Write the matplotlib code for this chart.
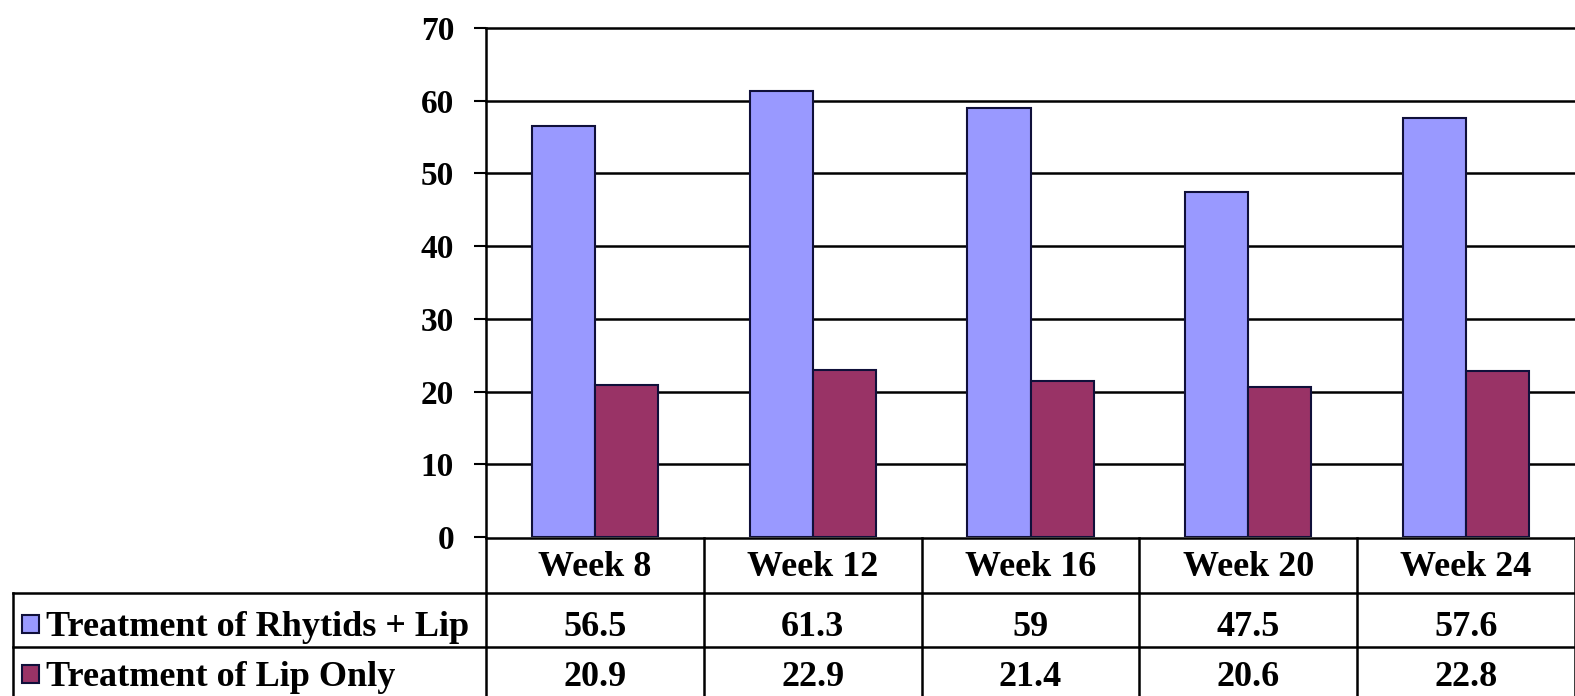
import matplotlib
matplotlib.use('Agg')
import matplotlib.pyplot as plt
from matplotlib.patches import Rectangle
from matplotlib.lines import Line2D

''' chart data '''
weeks = ['Week 8', 'Week 12', 'Week 16', 'Week 20', 'Week 24']
rhytids_lip = [56.5, 61.3, 59, 47.5, 57.6]
lip_only = [20.9, 22.9, 21.4, 20.6, 22.8]
series_names = ['Treatment of Rhytids + Lip', 'Treatment of Lip Only']
yticks = [0, 10, 20, 30, 40, 50, 60, 70]

blue = '#9999FF'
maroon = '#993366'
edge = '#10103a'

plt.rcParams['font.family'] = ['Liberation Serif', 'DejaVu Serif']
plt.rcParams['font.weight'] = 'bold'

W, H = 1575, 696
fig = plt.figure(figsize=(W / 100, H / 100), dpi=100)

''' main bar axes (pixel layout) '''
left_px, right_px, top_px, bottom_px = 486, 1575, 28, 537
ax = fig.add_axes([left_px / W, (H - bottom_px) / H,
                   (right_px - left_px) / W, (bottom_px - top_px) / H])

x = list(range(len(weeks)))
bw = 0.29
ax.bar([i - bw / 2 for i in x], rhytids_lip, width=bw, color=blue,
       edgecolor=edge, linewidth=1.5, zorder=3)
ax.bar([i + bw / 2 for i in x], lip_only, width=bw, color=maroon,
       edgecolor=edge, linewidth=1.5, zorder=3)

ax.set_xlim(-0.5, len(weeks) - 0.5)
ax.set_ylim(0, 70)
ax.set_yticks(yticks)
ax.set_yticklabels([str(t) for t in yticks], fontsize=24, fontweight='bold')
ax.set_xticks([])
for t in yticks[1:]:
    ax.axhline(t, color='black', linewidth=1.8, zorder=1, clip_on=False)
ax.tick_params(axis='y', direction='out', length=9, width=1.5, pad=14)
for side in ['top', 'right', 'bottom']:
    ax.spines[side].set_visible(False)
ax.spines['left'].set_linewidth(1.8)

''' data table under the axes '''
axes_h = bottom_px - top_px
col_px = (right_px - left_px) / len(weeks)
n = len(weeks)
lw = 1.8
tr = ax.get_xaxis_transform()
label_left = -0.5 - (left_px - 13) / col_px

def fy(py):
    # pixel row -> axes fraction
    return (bottom_px - py) / axes_h

row_lines = [538, 593, 647, 705]
baselines = [576, 636, 686]

def hline(x0, x1, py):
    ax.add_line(Line2D([x0, x1], [fy(py), fy(py)], color='black', linewidth=lw,
                       transform=tr, clip_on=False))

def vline(xv, py0, py1):
    ax.add_line(Line2D([xv, xv], [fy(py0), fy(py1)], color='black', linewidth=lw,
                       transform=tr, clip_on=False))

hline(-0.5, n - 0.5, row_lines[0])
for py in row_lines[1:]:
    hline(label_left, n - 0.5, py)
for i in range(n + 1):
    vline(i - 0.5, row_lines[0], row_lines[-1])
vline(label_left, row_lines[1], row_lines[-1])

# header row
for i, wk in enumerate(weeks):
    ax.text(i, fy(baselines[0]), wk, transform=tr, ha='center', va='baseline',
            fontsize=26, fontweight='bold', clip_on=False)

# value rows with legend keys
colors = [blue, maroon]
for r, (name, vals) in enumerate(zip(series_names, [rhytids_lip, lip_only])):
    yb = fy(baselines[r + 1])
    for i, v in enumerate(vals):
        ax.text(i, yb, str(v), transform=tr, ha='center', va='baseline',
                fontsize=26, fontweight='bold', clip_on=False)
    key_top = baselines[r + 1] - 21
    ax.add_patch(Rectangle((label_left + 9 / col_px, fy(key_top + 18)),
                           17 / col_px, 18 / axes_h, transform=tr,
                           facecolor=colors[r], edgecolor=edge, linewidth=1.5,
                           clip_on=False))
    ax.text(label_left + 33 / col_px, yb, name, transform=tr,
            ha='left', va='baseline', fontsize=26, fontweight='bold', clip_on=False)

fig.savefig('out.png', dpi=100)
